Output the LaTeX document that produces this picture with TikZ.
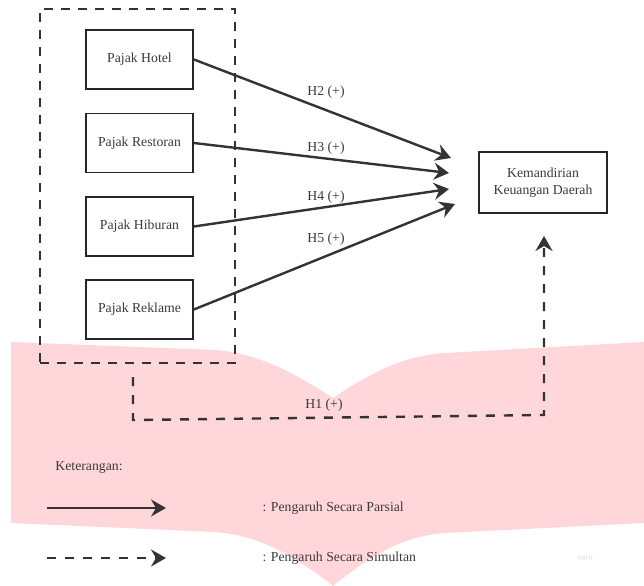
\documentclass[tikz,border=0pt]{standalone}
\usepackage{fontspec}
\setmainfont{Liberation Serif}
\newfontfamily\mirofont{Liberation Sans}
\usetikzlibrary{arrows.meta}
\definecolor{pinkbg}{RGB}{255,214,218}
\definecolor{linegray}{RGB}{51,51,51}
\definecolor{textgray}{RGB}{58,58,58}

\begin{document}
\begin{tikzpicture}[x=1bp, y=-1bp,
		font=\fontsize{13.8}{16.7}\selectfont, text=textgray,
		pajakbox/.style={draw=black!85, line width=1.8bp, minimum width=107bp, minimum height=59bp, inner sep=2bp},
		parsial/.style={draw=linegray, line width=2.4bp, -{Stealth[length=15bp,width=17bp,inset=5bp]}},
		simultan/.style={parsial, dash pattern=on 9bp off 9bp},
		grupbox/.style={draw=linegray, line width=2.2bp, dash pattern=on 9bp off 8bp}]
		    \useasboundingbox (0,0) rectangle (644,586);
		    
		    % background ribbon
		    \fill[pinkbg] (11,342) -- (215,350) .. controls (255,353) and (290,370) .. (333,398)
		        .. controls (375,370) and (405,356) .. (445,353) -- (644,342) -- (644,523)
		        -- (445,533) .. controls (405,536) and (375,552) .. (333,586)
		        .. controls (290,552) and (255,535) .. (215,532) -- (11,523) -- cycle;
		    
		    \node [grupbox, minimum width=195bp, minimum height=354bp] (grup) at (137.5,186) {};
		    
		    \node [pajakbox] (hotel) at (139.5,59.5) {Pajak Hotel};
		    \node [pajakbox] (restoran) at (139.5,143) {Pajak Restoran};
		    \node [pajakbox] (hiburan) at (139.5,226.5) {Pajak Hiburan};
		    \node [pajakbox] (reklame) at (139.5,309.5) {Pajak Reklame};
		    
		    \node [pajakbox, minimum width=128bp, minimum height=61bp, align=center] (kemandirian) at (543,182.5) {Kemandirian\\Keuangan Daerah};
		    
		    \coordinate (tipH2) at (451,158);
		    \coordinate (tipH3) at (449,173);
		    \coordinate (tipH4) at (449,189);
		    \coordinate (tipH5) at (455,204);
		    
			\draw[parsial] (hotel.east) -- (tipH2);
			\draw[parsial] (restoran.east) -- (tipH3);
			\draw[parsial] (hiburan.east) -- (tipH4);
			\draw[parsial] (reklame.east) -- (tipH5);
			
			\node (lblH2) at (326,92) {H2 (+)};
			\node (lblH3) at (326,148) {H3 (+)};
			\node (lblH4) at (326,197) {H4 (+)};
			\node (lblH5) at (326,239) {H5 (+)};
			
			\coordinate (h1a) at (133,377);
			\coordinate (h1b) at (133,420);
			\coordinate (h1c) at (544,415);
			\coordinate (h1tip) at (544,236);
			\draw[simultan] (h1a) -- (h1b) -- (h1c) -- (h1tip);
			\node (lblH1) at (324,405) {H1 (+)};
			
			% legend
			\node (ket) at (89,467) {Keterangan:};
			\coordinate (lgA) at (47,508); \coordinate (lgB) at (166,508);
			\coordinate (lgC) at (47,558); \coordinate (lgD) at (166,558);
			\draw[parsial] (lgA) -- (lgB);
			\draw[simultan] (lgC) -- (lgD);
			\node [anchor=west] (lgParsial) at (259,508) {: Pengaruh Secara Parsial};
			\node [anchor=west] (lgSimultan) at (259,558) {: Pengaruh Secara Simultan};
			
			\node [text=black!13, font=\mirofont\fontsize{8}{9}\selectfont] (miro) at (585,558) {miro};
		\end{tikzpicture}
\end{document}
